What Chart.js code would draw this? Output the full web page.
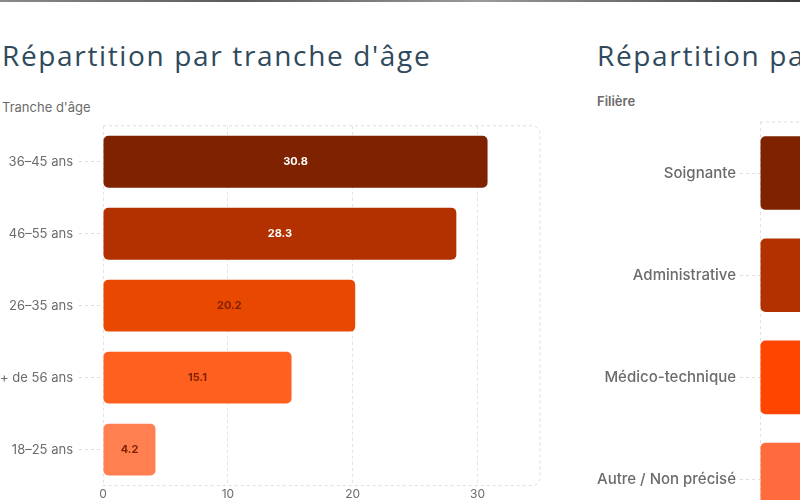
<!DOCTYPE html>
<html>
<head>
<meta charset="utf-8">
<script src="https://cdn.jsdelivr.net/npm/chart.js@4.4.1/dist/chart.umd.min.js"></script>
<style>
  html, body { margin: 0; padding: 0; width: 800px; height: 500px; overflow: hidden; background: #ffffff; }
  .strip { position: absolute; left: 0; top: 0; width: 800px; height: 2px; background: linear-gradient(90deg, #8a8a86 0%, #5a5a56 30%, #9a9a96 60%, #3a3a38 100%); }
  .title { position: absolute; font-family: "Open Sans", sans-serif; font-weight: 500; font-size: 28px; color: #2f4a5c; white-space: nowrap; letter-spacing: 1.65px; }
  .axtitle { position: absolute; font-family: "Inter", sans-serif; font-size: 13px; color: #6b6b6b; white-space: nowrap; }
  .box { position: absolute; }
</style>
</head>
<body>
<div class="strip"></div>
<div class="title" style="left:2px; top:36px;">Répartition par tranche d'âge</div>
<div class="axtitle" style="left:2px; top:99px;">Tranche d'âge</div>
<div class="box" style="left:0px; top:112px; width:560px; height:392px;"><canvas id="c1"></canvas></div>

<div class="title" style="left:597px; top:36px;">Répartition par filière</div>
<div class="axtitle" style="left:597px; top:93px; font-weight:600; font-size:13px;">Filière</div>
<div class="box" style="left:597px; top:109px; width:820px; height:440px;"><canvas id="c2"></canvas></div>

<script>
// ---- Data ----
const ageLabels = ["36–45 ans", "46–55 ans", "26–35 ans", "+ de 56 ans", "18–25 ans"];
const ageValues = [30.8, 28.3, 20.2, 15.1, 4.2];
const ageColors = ["#7f2200", "#b33100", "#e84800", "#ff5f1f", "#ff7f50"];
const ageLabelColors = ["#ffffff", "#ffffff", "#7f2200", "#7f2200", "#7f2200"];
const ageTicks = [0, 10, 20, 30];

const filiereLabels = ["Soignante", "Administrative", "Médico-technique", "Autre / Non précisé"];
const filiereValues = [55, 20, 15, 10];
const filiereColors = ["#7f2200", "#b33100", "#ff4500", "#ff6b3d"];
const filiereLabelColors = ["#ffffff", "#ffffff", "#7f2200", "#7f2200"];

// ---- Plugins ----
const frame = {
  id: 'frame',
  beforeDatasetsDraw(chart) {
    const a = chart.chartArea, ctx = chart.ctx, r = 8;
    ctx.save();
    ctx.strokeStyle = '#dcdcdc';
    ctx.lineWidth = 1;
    ctx.setLineDash([3, 3]);
    ctx.beginPath();
    ctx.moveTo(a.left, a.top);
    ctx.lineTo(a.right - r, a.top);
    ctx.arcTo(a.right, a.top, a.right, a.top + r, r);
    ctx.lineTo(a.right, a.bottom - r);
    ctx.arcTo(a.right, a.bottom, a.right - r, a.bottom, r);
    ctx.lineTo(a.left, a.bottom);
    ctx.stroke();
    ctx.restore();
  }
};
const barLabels = {
  id: 'barLabels',
  afterDatasetsDraw(chart, args, opts) {
    const ctx = chart.ctx;
    const meta = chart.getDatasetMeta(0);
    const ds = chart.data.datasets[0];
    ctx.save();
    ctx.font = 'bold 11px "Inter", sans-serif';
    ctx.textAlign = 'center';
    ctx.textBaseline = 'middle';
    meta.data.forEach((bar, i) => {
      const cx = (bar.x + bar.base) / 2;
      ctx.fillStyle = opts.colors[i];
      ctx.fillText(String(ds.data[i]), cx, bar.y);
    });
    ctx.restore();
  }
};

function makeChart(id, labels, values, colors, labelColors, max, stepSize, yWidth, tickFont, tickLen, tickPad) {
  return new Chart(document.getElementById(id), {
    type: 'bar',
    data: {
      labels: labels,
      datasets: [{
        data: values,
        backgroundColor: colors,
        borderWidth: 0,
        borderRadius: 5,
        borderSkipped: false
      }]
    },
    options: {
      indexAxis: 'y',
      responsive: true,
      maintainAspectRatio: false,
      animation: false,
      layout: { padding: { left: 0, right: 20, top: 6, bottom: 0 } },
      plugins: {
        legend: { display: false },
        tooltip: { enabled: false },
        barLabels: { colors: labelColors }
      },
      scales: {
        x: {
          min: 0, max: max,
          ticks: { stepSize: stepSize, color: '#6b6b6b', font: { family: 'Inter', size: 12 }, padding: 2,
                   callback: v => (v % stepSize === 0 && v < max) ? v : '' },
          grid: { color: '#e2e2e2', borderDash: [3, 3], drawTicks: false,
                  lineWidth: ctx => (ctx.tick && ctx.tick.value >= max) ? 0 : 1 },
          border: { display: false, dash: [3, 3] }
        },
        y: {
          afterFit(scale) { scale.width = yWidth; },
          ticks: { color: '#6b6b6b', font: tickFont, padding: tickPad },
          grid: { offset: false, drawOnChartArea: false, drawTicks: true, tickLength: tickLen,
                  tickColor: '#dddddd', tickBorderDash: [3, 3] },
          border: { display: false }
        }
      }
    },
    plugins: [frame, barLabels]
  });
}

makeChart('c1', ageLabels, ageValues, ageColors, ageLabelColors, 35, 10, 103, { family: 'Inter', size: 13 }, 24, 6);
makeChart('c2', filiereLabels, filiereValues, filiereColors, filiereLabelColors, 60, 10, 163, { family: 'Inter', size: 15, weight: '500' }, 20, 4);
</script>
</body>
</html>
